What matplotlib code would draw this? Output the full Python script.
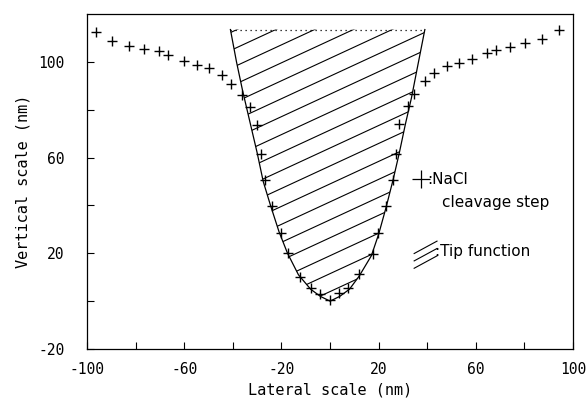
import numpy as np
import matplotlib
matplotlib.use("Agg")
import matplotlib.pyplot as plt
from matplotlib.patches import Polygon
from matplotlib.ticker import FixedLocator, FixedFormatter

# NaCl cleavage step profile (nm)
step_x = [-96.4, -89.6, -82.6, -76.4, -70.5, -66.8, -60.0, -54.9, -49.8, -44.3,
          -40.7, -36.2, -33.1, -30.0, -28.3, -26.6, -24.0, -20.3, -17.4, -12.3,
          -7.8, -4.1, 0.0, 3.7, 7.5, 11.8, 17.6, 19.9, 23.0, 25.8,
          27.2, 28.5, 32.0, 34.5, 39.0, 42.9, 48.0, 53.2, 58.3, 64.5,
          68.3, 74.1, 80.2, 87.1, 94.4]
step_y = [112.4, 108.8, 106.8, 105.4, 104.6, 102.8, 100.5, 98.6, 97.4, 94.3,
          90.8, 86.0, 81.3, 73.6, 61.5, 50.8, 39.7, 28.3, 20.2, 10.2,
          5.3, 2.9, 0.5, 3.2, 5.7, 11.2, 19.7, 28.3, 39.7, 50.8,
          61.5, 74.0, 81.5, 86.4, 92.0, 95.3, 98.3, 99.5, 101.3, 103.6,
          105.0, 106.2, 107.8, 109.5, 113.4]

# tip function outline
tip_x = [-41.0, -38.5, -36.0, -33.0, -30.0, -27.5, -24.5, -21.0, -17.5, -13.0,
         -8.0, -4.0, 0.0, 4.0, 8.0, 12.0, 17.0, 20.0, 23.0, 26.0,
         28.5, 31.0, 33.5, 36.0, 39.0]
tip_y = [113.5, 100.0, 88.0, 75.0, 62.0, 50.0, 40.0, 29.0, 20.0, 11.0,
         5.0, 2.0, 0.0, 2.0, 5.0, 10.5, 19.0, 28.0, 39.0, 51.0,
         62.0, 74.0, 85.0, 98.0, 113.5]

x_ticks = list(range(-100, 101, 20))
x_labels = ["-100", "", "-60", "", "-20", "", "20", "", "60", "", "100"]
y_ticks = list(range(-20, 101, 20))
y_labels = ["-20", "", "20", "", "60", "", "100"]

mono = "DejaVu Sans Mono"

fig = plt.figure(figsize=(5.86, 4.0), dpi=100)
ax = fig.add_axes([0.1485, 0.1275, 0.8295, 0.8375])

# tip outline + dotted top
ax.plot(tip_x, tip_y, color="black", lw=0.9)
ax.plot([tip_x[0], tip_x[-1]], [tip_y[0], tip_y[-1]], color="black", lw=0.9,
        linestyle=(0, (1, 3)))

# hatching clipped to the tip shape
poly = Polygon(np.column_stack([tip_x, tip_y]), closed=True, fill=False,
               edgecolor="none")
ax.add_patch(poly)
hx = np.array([-50, 50])
for c in np.arange(4 - 7.5 * 4, 150, 7.5):
    ln, = ax.plot(hx, 0.47 * hx + c, color="black", lw=0.8)
    ln.set_clip_path(poly)

ax.plot(step_x, step_y, linestyle="none", marker="+", color="black",
        markersize=6.5, markeredgewidth=1.0)

ax.set_xlim(-100, 100)
ax.set_ylim(-20, 120)

ax.xaxis.set_major_locator(FixedLocator(x_ticks))
ax.xaxis.set_major_formatter(FixedFormatter(x_labels))
ax.yaxis.set_major_locator(FixedLocator(y_ticks))
ax.yaxis.set_major_formatter(FixedFormatter(y_labels))
ax.tick_params(direction="in", length=5, width=0.8, labelsize=10.5)
ax.tick_params(axis="x", pad=9)
ax.tick_params(axis="y", pad=16)
for lab in ax.get_xticklabels() + ax.get_yticklabels():
    lab.set_fontfamily(mono)
for s in ax.spines.values():
    s.set_linewidth(0.9)

ax.set_xlabel("Lateral scale (nm)", fontfamily=mono, fontsize=11, labelpad=4)
ax.set_ylabel("Vertical scale (nm)", fontfamily=mono, fontsize=11, labelpad=6)

# hand-drawn style legend
ax.plot([0.688], [0.506], transform=ax.transAxes, marker="+", color="black",
        markersize=13, markeredgewidth=0.9, linestyle="none")
ax.text(0.700, 0.506, ":NaCl", transform=ax.transAxes, fontsize=11,
        va="center", ha="left")
ax.text(0.730, 0.437, "cleavage step", transform=ax.transAxes, fontsize=11,
        va="center", ha="left")
for k in range(3):
    dy = -0.022 * k
    ax.plot([0.673, 0.720], [0.285 + dy, 0.322 + dy], transform=ax.transAxes,
            color="black", lw=0.8)
ax.text(0.716, 0.292, ":Tip function", transform=ax.transAxes, fontsize=11,
        va="center", ha="left")

fig.savefig("out.png", dpi=100)
